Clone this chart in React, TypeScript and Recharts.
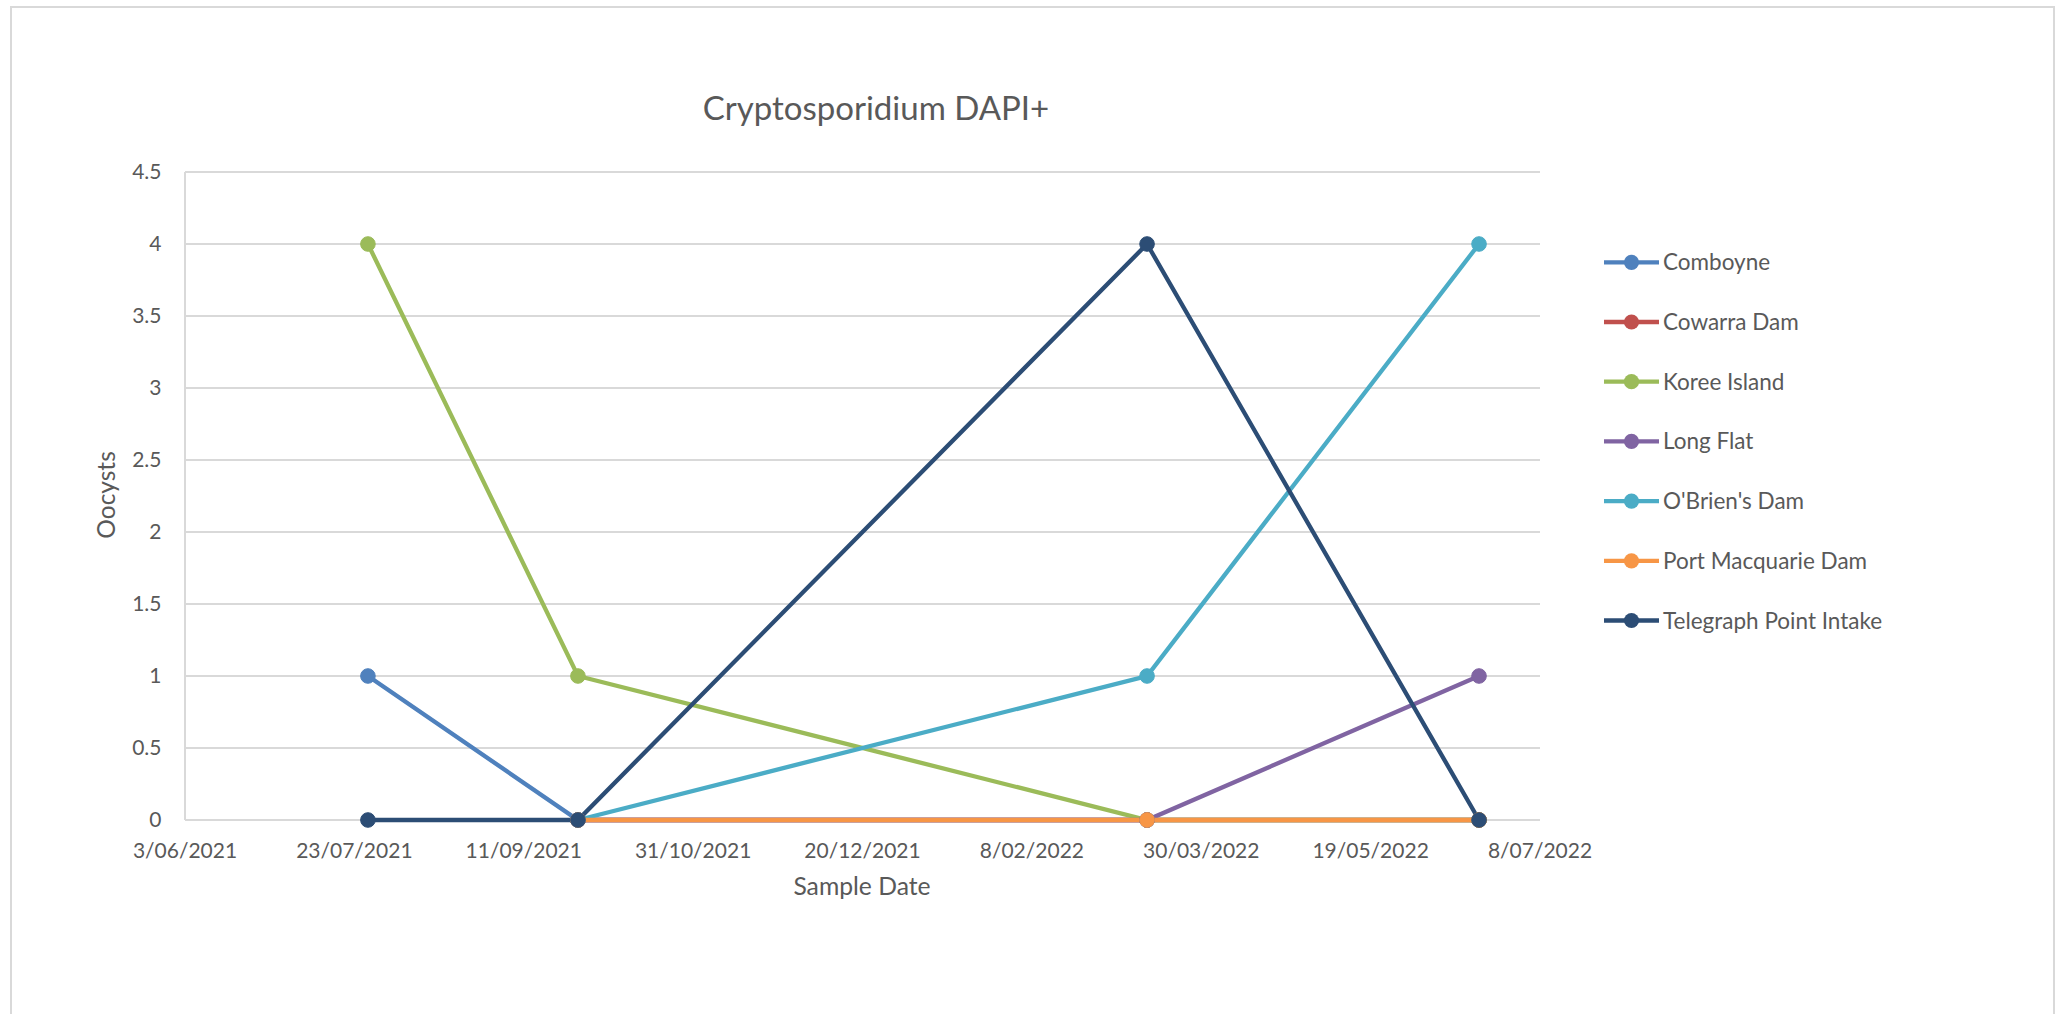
import React from 'react';
import { LineChart, Line, XAxis, YAxis, CartesianGrid } from 'recharts';

// sampling dates (one row per sample run)
const sampleDates = ['2021-07-27', '2021-09-27', '2022-03-14', '2022-06-20'];

// oocyst counts per site, aligned with sampleDates (null = not sampled)
const comboyne = [1, 0, 0, 0];
const cowarraDam = [null, 0, 0, 0];
const koreeIsland = [4, 1, 0, 0];
const longFlat = [null, 0, 0, 1];
const obriensDam = [null, 0, 1, 4];
const portMacquarieDam = [null, 0, 0, 0];
const telegraphPointIntake = [0, 0, 4, 0];

const dateTicks = [
  '2021-06-03',
  '2021-07-23',
  '2021-09-11',
  '2021-10-31',
  '2021-12-20',
  '2022-02-08',
  '2022-03-30',
  '2022-05-19',
  '2022-07-08',
];
const oocystTicks = [0, 0.5, 1, 1.5, 2, 2.5, 3, 3.5, 4, 4.5];

const series = [
  { key: 'comboyne', name: 'Comboyne', color: '#4F81BD', values: comboyne },
  { key: 'cowarra', name: 'Cowarra Dam', color: '#C0504D', values: cowarraDam },
  { key: 'koree', name: 'Koree Island', color: '#9BBB59', values: koreeIsland },
  { key: 'longFlat', name: 'Long Flat', color: '#8064A2', values: longFlat },
  { key: 'obriens', name: "O'Brien's Dam", color: '#4BACC6', values: obriensDam },
  { key: 'portMac', name: 'Port Macquarie Dam', color: '#F79646', values: portMacquarieDam },
  { key: 'telegraph', name: 'Telegraph Point Intake', color: '#2C4D75', values: telegraphPointIntake },
];

const toTime = (iso: string) => new Date(iso + 'T00:00:00Z').getTime();

const data = sampleDates.map((d, i) => {
  const row: Record<string, number | null> = { t: toTime(d) };
  series.forEach((s) => {
    row[s.key] = s.values[i];
  });
  return row;
});

const tickTimes = dateTicks.map(toTime);

const fmtDate = (ms: number) => {
  const d = new Date(ms);
  const mm = String(d.getUTCMonth() + 1).padStart(2, '0');
  return `${d.getUTCDate()}/${mm}/${d.getUTCFullYear()}`;
};

const FONT = 'Lato, "Open Sans", sans-serif';
const TEXT = '#595959';
const GRID = '#D9D9D9';

const W = 2069;
const H = 1014;

export default function App() {
  return (
    <div style={{ position: 'absolute', left: 0, top: 0, width: W, height: H, background: '#fff', overflow: 'hidden' }}>
      {/* chart area frame */}
      <div
        style={{
          position: 'absolute',
          left: 10,
          top: 6,
          width: 2045,
          height: 1100,
          border: `2px solid ${GRID}`,
          boxSizing: 'border-box',
        }}
      />
      <div style={{ position: 'absolute', left: 0, top: 0 }}>
        <LineChart
          width={W}
          height={H}
          data={data}
          margin={{ top: 172, right: 529, left: 105, bottom: 114 }}
        >
          {/* the zero gridline doubles as the date axis line, kept under the series */}
          <CartesianGrid horizontal vertical={false} stroke={GRID} strokeWidth={2} />
          <XAxis
            dataKey="t"
            type="number"
            domain={[tickTimes[0], tickTimes[tickTimes.length - 1]]}
            ticks={tickTimes}
            interval={0}
            height={80}
            tickFormatter={fmtDate}
            axisLine={false}
            tickLine={false}
            tickMargin={17}
            tick={{ fill: TEXT, fontSize: 21, fontFamily: FONT }}
          />
          <YAxis
            type="number"
            domain={[0, 4.5]}
            ticks={oocystTicks}
            interval={0}
            width={80}
            axisLine={{ stroke: GRID, strokeWidth: 2 }}
            tickLine={false}
            tickMargin={17.5}
            tick={{ fill: TEXT, fontSize: 21, fontFamily: FONT }}
          />
          {series.map((s) => (
            <Line
              key={s.key}
              dataKey={s.key}
              name={s.name}
              type="linear"
              stroke={s.color}
              strokeWidth={4.3}
              dot={{ r: 7.3, fill: s.color, stroke: s.color, strokeWidth: 1 }}
              activeDot={false}
              connectNulls={false}
              isAnimationActive={false}
            />
          ))}
        </LineChart>
      </div>
      {/* titles and legend */}
      <svg width={W} height={H} style={{ position: 'absolute', left: 0, top: 0, pointerEvents: 'none' }}>
        <text x={876} y={119.5} textAnchor="middle" fill={TEXT} fontSize={33} fontFamily={FONT}>
          Cryptosporidium DAPI+
        </text>
        <text x={862} y={895} textAnchor="middle" fill={TEXT} fontSize={24.7} fontFamily={FONT}>
          Sample Date
        </text>
        <text
          x={0}
          y={0}
          transform="translate(114.5 495) rotate(-90)"
          textAnchor="middle"
          fill={TEXT}
          fontSize={24.5}
          fontFamily={FONT}
        >
          Oocysts
        </text>
        {series.map((s, i) => {
          const cy = 262.3 + i * 59.7;
          return (
            <g key={s.key}>
              <line x1={1604} x2={1659} y1={cy} y2={cy} stroke={s.color} strokeWidth={4.3} />
              <circle cx={1631.5} cy={cy} r={7.6} fill={s.color} />
              <text x={1663} y={cy + 8} fill={TEXT} fontSize={22.5} fontFamily={FONT}>
                {s.name}
              </text>
            </g>
          );
        })}
      </svg>
    </div>
  );
}
